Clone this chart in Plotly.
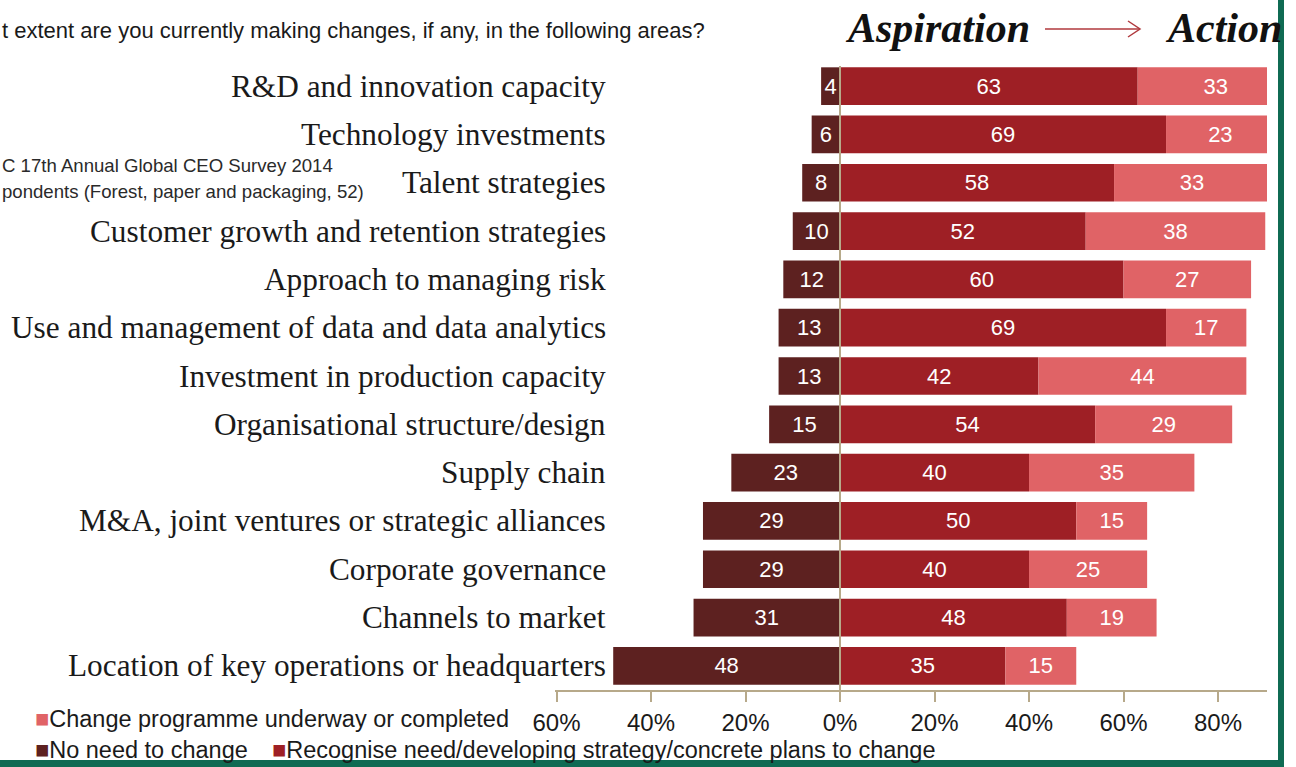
import plotly.graph_objects as go

categories = [
    "R&D and innovation capacity",
    "Technology investments",
    "Talent strategies",
    "Customer growth and retention strategies",
    "Approach to managing risk",
    "Use and management of data and data analytics",
    "Investment in production capacity",
    "Organisational structure/design",
    "Supply chain",
    "M&A, joint ventures or strategic alliances",
    "Corporate governance",
    "Channels to market",
    "Location of key operations or headquarters",
]
no_need = [4, 6, 8, 10, 12, 13, 13, 15, 23, 29, 29, 31, 48]
recognise = [63, 69, 58, 52, 60, 69, 42, 54, 40, 50, 40, 48, 35]
underway = [33, 23, 33, 38, 27, 17, 44, 29, 35, 15, 25, 19, 15]

tick_vals = [-60, -40, -20, 0, 20, 40, 60, 80]
tick_text = ["60%", "40%", "20%", "0%", "20%", "40%", "60%", "80%"]

series_names = ["No need to change",
                "Recognise need/developing strategy/concrete plans to change",
                "Change programme underway or completed"]

C_DARK = "#5d2120"
C_MID = "#9e1f25"
C_LIGHT = "#e06366"
C_AXIS = "#b7a98a"
C_GREEN = "#0f6b53"

SANS = "Liberation Sans, Arial, sans-serif"
SERIF = "Liberation Serif, Times New Roman, serif"

W, H = 1296, 767
L, R, T, B = 555, 1267, 62, 690


def px(x):
    return (x - L) / (R - L)


def py(y):
    return (B - y) / (B - T)


fig = go.Figure()
common = dict(orientation="h", textposition="inside", insidetextanchor="middle",
              constraintext="none", width=0.78, showlegend=False,
              textfont=dict(family=SANS, size=22, color="white"),
              marker_line_width=0)
fig.add_trace(go.Bar(y=categories, x=[-v for v in no_need], text=[str(v) for v in no_need],
                     name=series_names[0], marker_color=C_DARK, **common))
fig.add_trace(go.Bar(y=categories, x=recognise, text=[str(v) for v in recognise],
                     name=series_names[1], marker_color=C_MID, **common))
fig.add_trace(go.Bar(y=categories, x=underway, text=[str(v) for v in underway],
                     name=series_names[2], marker_color=C_LIGHT, **common))

annotations = []
for c in categories:
    annotations.append(dict(xref="paper", yref="y", x=px(608), y=c, text=c, showarrow=False,
                            xanchor="right", yanchor="middle",
                            font=dict(family=SERIF, size=31.3, color="#1a1a1a")))

annotations += [
    dict(xref="paper", yref="paper", x=px(0), y=py(30), xanchor="left", yanchor="middle",
         text="t extent are you currently making changes, if any, in the following areas?",
         showarrow=False, font=dict(family=SANS, size=22, color="#1a1a1a")),
    dict(xref="paper", yref="paper", x=px(0), y=py(165), xanchor="left", yanchor="middle",
         text="C 17th Annual Global CEO Survey 2014",
         showarrow=False, font=dict(family=SANS, size=18.6, color="#2a2a2a")),
    dict(xref="paper", yref="paper", x=px(0), y=py(192), xanchor="left", yanchor="middle",
         text="pondents (Forest, paper and packaging, 52)",
         showarrow=False, font=dict(family=SANS, size=18.6, color="#2a2a2a")),
    dict(xref="paper", yref="paper", x=px(843), y=py(28), xanchor="left", yanchor="middle",
         text="<b><i>Aspiration</i></b>", showarrow=False,
         font=dict(family=SERIF, size=42, color="#111111")),
    dict(xref="paper", yref="paper", x=px(1163), y=py(28), xanchor="left", yanchor="middle",
         text="<b><i>Action</i></b>", showarrow=False,
         font=dict(family=SERIF, size=42, color="#111111")),
    dict(xref="paper", yref="paper", x=px(33), y=py(719), xanchor="left", yanchor="middle",
         text=f"<span style='color:{C_LIGHT}'>■</span>{series_names[2]}", showarrow=False,
         font=dict(family=SANS, size=23.5, color="#1a1a1a")),
    dict(xref="paper", yref="paper", x=px(33), y=py(750), xanchor="left", yanchor="middle",
         text=f"<span style='color:{C_DARK}'>■</span>{series_names[0]}", showarrow=False,
         font=dict(family=SANS, size=23.5, color="#1a1a1a")),
    dict(xref="paper", yref="paper", x=px(270), y=py(750), xanchor="left", yanchor="middle",
         text=f"<span style='color:{C_MID}'>■</span>{series_names[1]}", showarrow=False,
         font=dict(family=SANS, size=23.5, color="#1a1a1a")),
]

shapes = [
    # zero line
    dict(type="line", xref="x", yref="paper", x0=0, x1=0, y0=py(66), y1=0,
         line=dict(color=C_AXIS, width=2), layer="above"),
    # arrow
    dict(type="line", xref="paper", yref="paper", x0=px(1045), x1=px(1140), y0=py(29), y1=py(29),
         line=dict(color="#b0393d", width=1.5)),
    dict(type="path", xref="paper", yref="paper",
         path=f"M {px(1128)} {py(21)} L {px(1140)} {py(29)} L {px(1128)} {py(37)}",
         line=dict(color="#b0393d", width=1.5)),
    # green frame
    dict(type="rect", xref="paper", yref="paper", x0=px(1278), x1=px(1284), y0=py(0), y1=py(767),
         fillcolor=C_GREEN, line_width=0, layer="above"),
    dict(type="rect", xref="paper", yref="paper", x0=px(0), x1=px(1284), y0=py(760), y1=py(767),
         fillcolor=C_GREEN, line_width=0, layer="above"),
]

fig.update_layout(
    width=W, height=H,
    margin=dict(l=L, r=W - R, t=T, b=H - B, pad=0),
    barmode="relative", bargap=0.22,
    paper_bgcolor="white", plot_bgcolor="white",
    annotations=annotations, shapes=shapes,
    xaxis=dict(range=[-60.32, 90.37], tickvals=tick_vals, ticktext=tick_text,
               showgrid=False, zeroline=False, showline=True, linecolor=C_AXIS, linewidth=2,
               ticks="outside", ticklen=10, tickwidth=2, tickcolor=C_AXIS,
               tickfont=dict(family=SANS, size=24, color="#1a1a1a")),
    yaxis=dict(autorange="reversed", showticklabels=False, showgrid=False, zeroline=False,
               showline=False, ticks=""),
)

fig.write_html("out.html")
